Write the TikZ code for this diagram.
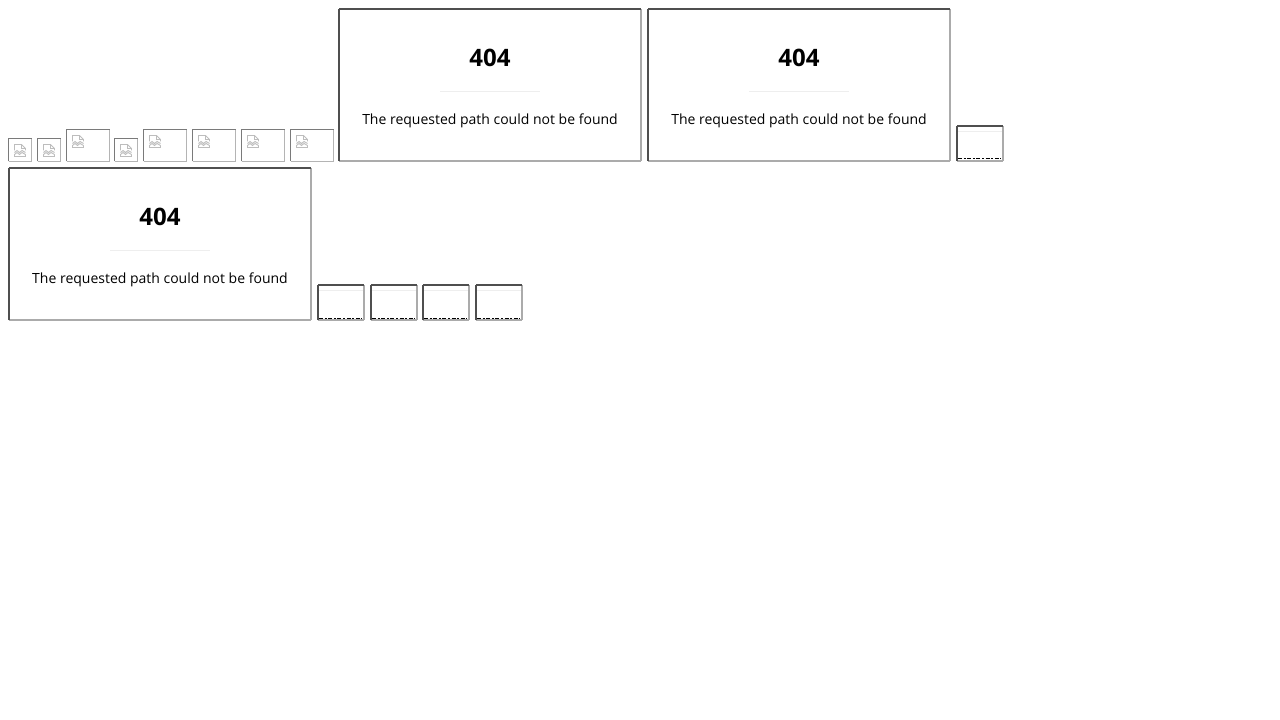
\documentclass[tikz,border=0pt]{standalone}
\usepackage{fontspec}
\setmainfont{Open Sans}
\usetikzlibrary{positioning,calc}
\definecolor{bevellight}{HTML}{ABABAB}
\definecolor{beveldark}{HTML}{4F4F4F}
\definecolor{imglight}{HTML}{B4B4B4}
\definecolor{imgdark}{HTML}{7A7A7A}
\definecolor{rulegray}{HTML}{EEEEEE}
\definecolor{icongray}{HTML}{BDBDBD}

\tikzset{
  bevel/.style n args={3}{
    outer sep=0pt,
    inner sep=0pt,
    append after command={
      \pgfextra{\let\boxname\tikzlastnode}
      (\boxname.south west) edge[draw=#2,line width=#1] (\boxname.south east)
      (\boxname.south east) edge[draw=#2,line width=#1] (\boxname.north east)
      (\boxname.south west) edge[draw=#3,line width=#1] (\boxname.north west)
      (\boxname.north west) edge[draw=#3,line width=#1] (\boxname.north east)
    }
  },
  frame/.style={
    bevel={1.5pt}{bevellight}{beveldark},
    minimum width=226.5pt,
    minimum height=114pt,
    anchor=north west
  },
  miniframe/.style={
    bevel={1.5pt}{bevellight}{beveldark},
    minimum width=34.5pt,
    minimum height=26.25pt,
    anchor=north west,
    append after command={
      \pgfextra{\let\mininame\tikzlastnode}
      ($(\mininame.north west)+(1,5.5)$) edge[draw=rulegray,line width=.75pt] ($(\mininame.north east)+(-1,5.5)$)
      ($(\mininame.south west)+(1,-2)$) edge[draw=black,line width=.75pt,dash pattern=on 3pt off 1.2pt on 1.5pt off 1.2pt] ($(\mininame.south east)+(-2,-2)$)
    }
  },
  imgsmall/.style={
    bevel={.75pt}{imglight}{imgdark},
    minimum width=17.25pt,
    minimum height=17.25pt,
    anchor=north west
  },
  imgwide/.style={
    bevel={.75pt}{imglight}{imgdark},
    minimum width=32.25pt,
    minimum height=24pt,
    anchor=north west
  },
  titletext/.style={font=\fontsize{18pt}{20pt}\selectfont\bfseries,text=black},
  bodytext/.style={font=\fontsize{10.5pt}{13pt}\selectfont,text=black},
  rulebar/.style={minimum width=75pt,minimum height=.75pt,inner sep=0pt,outer sep=0pt,fill=rulegray},
  brokenimg/.pic={
    \draw[icongray,line width=.7pt,line join=miter]
      (0.5,6.5) -- (0.5,0.5) -- (7.5,0.5) -- (11.5,4.5) -- (11.5,6.5)
      (7.5,0.5) -- (7.5,4.5) -- (11.5,4.5)
      (0.5,8.5) -- (3,6.5) -- (5.5,8.5) -- (8,6.5) -- (11.5,8.5)
      (0.5,10.5) -- (3,8.5) -- (5.5,10.5) -- (8,8.5) -- (11.5,10.5)
      (0.5,10.5) -- (0.5,12.5) -- (11.5,12.5) -- (11.5,10.5);
  }
}

\begin{document}
\begin{tikzpicture}[x=0.75pt,y=-0.75pt]
  \useasboundingbox (0,0) rectangle (1280,720);

  % BROKEN IMAGES
  \node [imgsmall] (imgone) at (8.5,138.5) {};
  \node [imgsmall] (imgtwo) at (37.5,138.5) {};
  \node [imgwide] (imgthree) at (66.5,129.5) {};
  \node [imgsmall] (imgfour) at (114.5,138.5) {};
  \node [imgwide] (imgfive) at (143.5,129.5) {};
  \node [imgwide] (imgsix) at (192.5,129.5) {};
  \node [imgwide] (imgseven) at (241.5,129.5) {};
  \node [imgwide] (imgeight) at (290.5,129.5) {};

  \pic at ($(imgone.north west)+(5.5,5.5)$) {brokenimg};
  \pic at ($(imgtwo.north west)+(5.5,5.5)$) {brokenimg};
  \pic at ($(imgthree.north west)+(5.5,5.5)$) {brokenimg};
  \pic at ($(imgfour.north west)+(5.5,5.5)$) {brokenimg};
  \pic at ($(imgfive.north west)+(5.5,5.5)$) {brokenimg};
  \pic at ($(imgsix.north west)+(5.5,5.5)$) {brokenimg};
  \pic at ($(imgseven.north west)+(5.5,5.5)$) {brokenimg};
  \pic at ($(imgeight.north west)+(5.5,5.5)$) {brokenimg};

  % 404 FRAMES
  \node [frame] (framea) at (339,9) {};
  \node [titletext, below=36.75pt of framea.north, anchor=center] (titlea) {404};
  \node [rulebar, below=25.1pt of titlea.center, anchor=center] (rulea) {};
  \node [bodytext, below=22.1pt of rulea.center, anchor=center] (bodya) {The requested path could not be found};

  \node [frame] (frameb) at (648,9) {};
  \node [titletext, below=36.75pt of frameb.north, anchor=center] (titleb) {404};
  \node [rulebar, below=25.1pt of titleb.center, anchor=center] (ruleb) {};
  \node [bodytext, below=22.1pt of ruleb.center, anchor=center] (bodyb) {The requested path could not be found};

  \node [frame] (framec) at (9,168) {};
  \node [titletext, below=36.75pt of framec.north, anchor=center] (titlec) {404};
  \node [rulebar, below=25.1pt of titlec.center, anchor=center] (rulec) {};
  \node [bodytext, below=22.1pt of rulec.center, anchor=center] (bodyc) {The requested path could not be found};

  % MINI FRAMES
  \node [miniframe] (minia) at (957,126) {};
  \node [miniframe] (minib) at (318,285) {};
  \node [miniframe] (minic) at (371,285) {};
  \node [miniframe] (minid) at (423,285) {};
  \node [miniframe] (minie) at (476,285) {};
\end{tikzpicture}
\end{document}
